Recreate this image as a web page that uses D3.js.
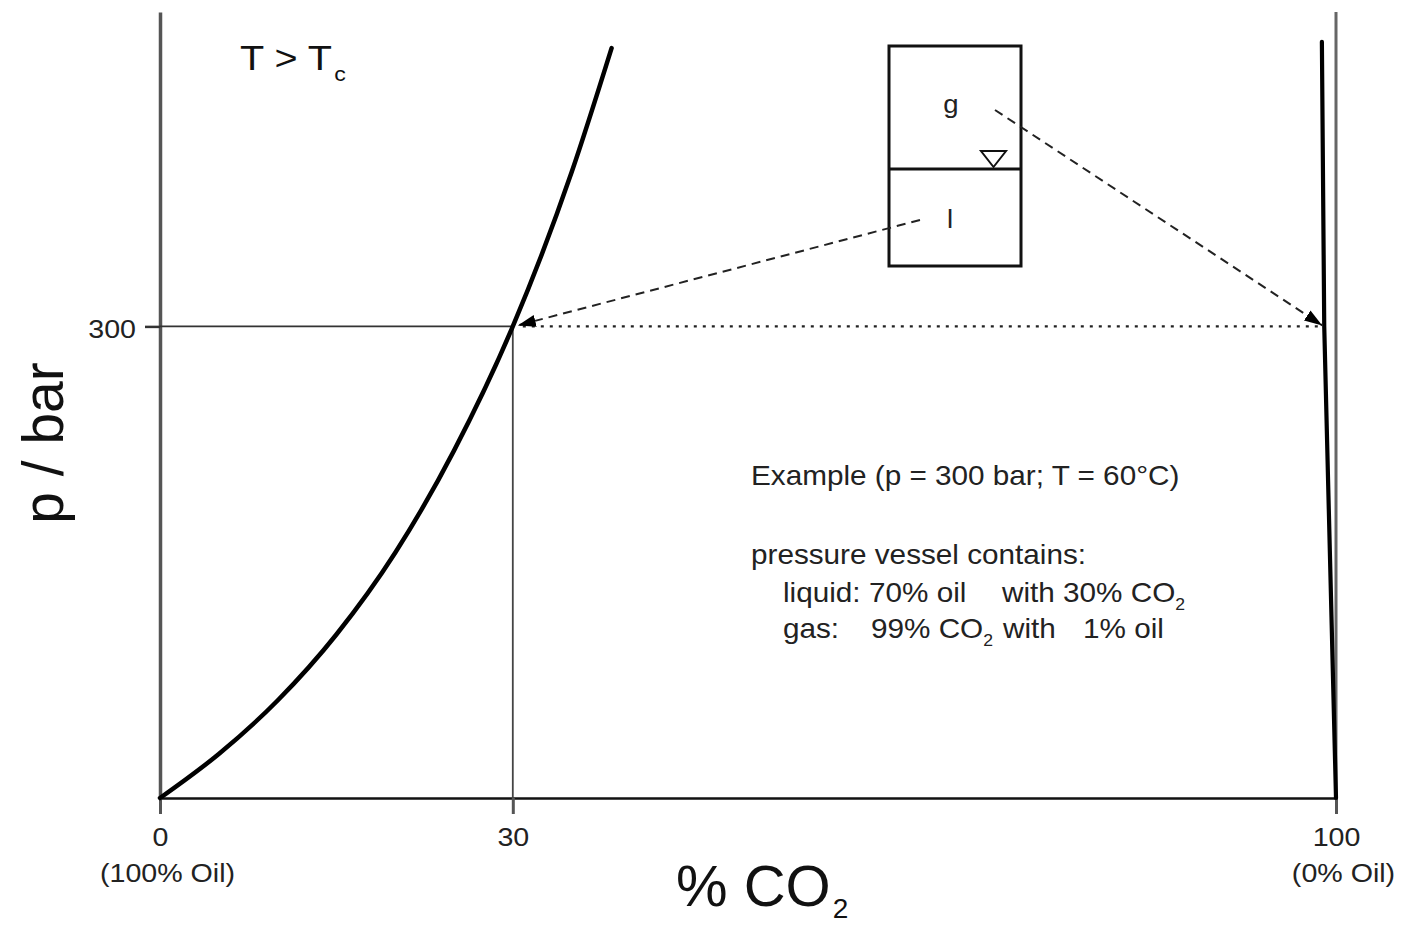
<!DOCTYPE html>
<html>
<head>
<meta charset="utf-8">
<script src="https://cdn.jsdelivr.net/npm/d3@7"></script>
<style>
  html, body { margin: 0; padding: 0; background: #fff; }
  svg { display: block; font-family: "Liberation Sans", Arial, Helvetica, sans-serif; }
</style>
</head>
<body>
<svg id="chart" width="1401" height="926"></svg>
<script>
// Phase boundaries of the CO2 / oil system above the critical temperature
// Liquid branch: % CO2 dissolved in the oil vs. pressure (bar)
const co2Liquid = [0, 5, 10, 15, 20, 25, 30, 35, 38.4];
const pLiquid   = [0, 28, 62, 104, 156, 221, 300, 398, 477];
// Gas branch: % CO2 in the gas phase vs. pressure (bar)
const co2Gas = [100, 99, 98.8];
const pGas   = [0, 300, 481];

// Axis ticks
const xTicks = [0, 30, 100];
const xTickNotes = { 0: "(100% Oil)", 100: "(0% Oil)" };
const yTicks = [300];

// Worked example
const exampleP = 300;
const exampleLiquidCO2 = 30;
const exampleGasCO2 = 99;

const svg = d3.select("#chart");
const font = "'Liberation Sans', Arial, Helvetica, sans-serif";
const WIDE = 1.1; // slightly expanded lettering

const x = d3.scaleLinear().domain([0, 100]).range([160, 1336]);
const y = d3.scaleLinear().domain([0, 500]).range([798, 12]);

// text helper: places a horizontally widened label at (px, py)
function label(parent, px, py, str, size, anchor) {
  return parent.append("text")
    .attr("transform", `translate(${px},${py}) scale(${WIDE},1)`)
    .attr("text-anchor", anchor || "start")
    .attr("font-size", size).attr("font-family", font).attr("fill", "#222")
    .text(str);
}

// ---- axes ----
const xAxis = d3.axisBottom(x).tickValues(xTicks).tickSize(16).tickSizeOuter(0)
  .tickFormat(d3.format("d"));
const gx = svg.append("g").attr("transform", `translate(0,${y(0)})`).call(xAxis);
gx.select(".domain").attr("stroke", "#111").attr("stroke-width", 2.6);
gx.selectAll(".tick line").attr("stroke", "#555").attr("stroke-width", 3);
gx.selectAll(".tick text")
  .attr("y", 0).attr("dy", 0)
  .attr("transform", `translate(0,48) scale(${WIDE},1)`)
  .attr("font-size", 26).attr("font-family", font).attr("fill", "#222");
gx.selectAll(".tick").filter(d => xTickNotes[d])
  .append("text")
  .attr("transform", `translate(7,84) scale(${WIDE},1)`)
  .attr("text-anchor", "middle")
  .attr("font-size", 26).attr("font-family", font).attr("fill", "#222")
  .text(d => xTickNotes[d]);

const yAxis = d3.axisLeft(y).tickValues(yTicks).tickSize(15).tickSizeOuter(0)
  .tickFormat(d3.format("d"));
const gy = svg.append("g").attr("transform", `translate(${x(0)},0)`).call(yAxis);
gy.select(".domain").attr("stroke", "#555").attr("stroke-width", 3.5);
gy.selectAll(".tick line").attr("stroke", "#333").attr("stroke-width", 2.5);
gy.selectAll(".tick text")
  .attr("x", 0).attr("dy", 0)
  .attr("transform", `translate(-24,11) scale(${WIDE},1)`)
  .attr("font-size", 26).attr("font-family", font).attr("fill", "#222");

// right frame line at 100 % CO2
svg.append("line")
  .attr("x1", x(100)).attr("x2", x(100))
  .attr("y1", y(0)).attr("y2", y(500))
  .attr("stroke", "#666").attr("stroke-width", 3);

// axis titles
svg.append("text")
  .attr("transform", `translate(63,443) rotate(-90)`)
  .attr("text-anchor", "middle")
  .attr("font-size", 57).attr("font-family", font).attr("fill", "#111")
  .text("p / bar");

const xt = svg.append("text")
  .attr("x", 676).attr("y", 906)
  .attr("font-size", 58).attr("font-family", font).attr("fill", "#111");
xt.append("tspan").text("% CO");
xt.append("tspan").attr("font-size", 28).attr("dy", 12).attr("dx", 2).text("2");

// ---- example construction lines at 300 bar ----
svg.append("line")
  .attr("x1", x(0)).attr("x2", x(exampleLiquidCO2))
  .attr("y1", y(exampleP)).attr("y2", y(exampleP))
  .attr("stroke", "#333").attr("stroke-width", 1.6);
svg.append("line")
  .attr("x1", x(exampleLiquidCO2)).attr("x2", x(exampleLiquidCO2))
  .attr("y1", y(exampleP)).attr("y2", y(0))
  .attr("stroke", "#444").attr("stroke-width", 1.8);
svg.append("line")
  .attr("x1", x(exampleLiquidCO2) + 10).attr("x2", x(exampleGasCO2) - 4)
  .attr("y1", y(exampleP)).attr("y2", y(exampleP))
  .attr("stroke", "#222").attr("stroke-width", 2.2)
  .attr("stroke-dasharray", "3,6");

// ---- phase boundary curves ----
const line = d3.line().x(d => x(d[0])).y(d => y(d[1]));
svg.append("path")
  .datum(d3.zip(co2Liquid, pLiquid))
  .attr("d", line.curve(d3.curveMonotoneX))
  .attr("fill", "none").attr("stroke", "#000").attr("stroke-width", 4.5)
  .attr("stroke-linecap", "round");
svg.append("path")
  .datum(d3.zip(co2Gas, pGas))
  .attr("d", d3.line().x(d => x(d[0])).y(d => y(d[1])))
  .attr("fill", "none").attr("stroke", "#000").attr("stroke-width", 4.2)
  .attr("stroke-linecap", "round");

// ---- pressure vessel sketch ----
const vessel = { x: 889, y: 46, w: 132, h: 220, level: 169 };
const vg = svg.append("g");
vg.append("rect")
  .attr("x", vessel.x).attr("y", vessel.y)
  .attr("width", vessel.w).attr("height", vessel.h)
  .attr("fill", "none").attr("stroke", "#111").attr("stroke-width", 3);
vg.append("line")
  .attr("x1", vessel.x).attr("x2", vessel.x + vessel.w)
  .attr("y1", vessel.level).attr("y2", vessel.level)
  .attr("stroke", "#111").attr("stroke-width", 3);
vg.append("path")
  .attr("d", `M981,151 L1006,151 L993.5,167 Z`)
  .attr("fill", "none").attr("stroke", "#111").attr("stroke-width", 2);
label(vg, 951, 113, "g", 25, "middle");
label(vg, 950, 228, "l", 25, "middle");

// arrows from each phase to its composition on the boundary
svg.append("defs").append("marker")
  .attr("id", "head")
  .attr("markerUnits", "userSpaceOnUse")
  .attr("viewBox", "0 0 18 12")
  .attr("refX", 18).attr("refY", 6)
  .attr("markerWidth", 18).attr("markerHeight", 12)
  .attr("orient", "auto")
  .append("path").attr("d", "M0,0 L18,6 L0,12 Z").attr("fill", "#000");

svg.append("line")
  .attr("x1", 920).attr("y1", 220)
  .attr("x2", x(exampleLiquidCO2) + 5).attr("y2", y(exampleP) - 1)
  .attr("stroke", "#222").attr("stroke-width", 2)
  .attr("stroke-dasharray", "9,6")
  .attr("marker-end", "url(#head)");
svg.append("line")
  .attr("x1", 995).attr("y1", 110)
  .attr("x2", x(exampleGasCO2) - 2).attr("y2", y(exampleP) - 1)
  .attr("stroke", "#222").attr("stroke-width", 2)
  .attr("stroke-dasharray", "9,6")
  .attr("marker-end", "url(#head)");

// ---- annotations ----
const tt = svg.append("text")
  .attr("transform", `translate(240,70) scale(${WIDE},1)`)
  .attr("font-size", 36).attr("font-family", font).attr("fill", "#111");
tt.append("tspan").text("T > T");
tt.append("tspan").attr("font-size", 21).attr("dy", 11).attr("dx", 2).text("c");

const note = svg.append("g");
const fs = 27;
label(note, 751, 485, "Example (p = 300 bar; T = 60\u00B0C)", fs);
label(note, 751, 564, "pressure vessel contains:", fs);

// liquid row
label(note, 783, 602, "liquid:", fs);
label(note, 869, 602, "70% oil", fs);
const w1 = label(note, 1002, 602, "with 30% CO", fs);
w1.append("tspan").attr("font-size", 16).attr("dy", 8).text("2");

// gas row
label(note, 783, 638, "gas:", fs);
const g1 = label(note, 871, 638, "99% CO", fs);
g1.append("tspan").attr("font-size", 16).attr("dy", 8).text("2");
label(note, 1003, 638, "with", fs);
label(note, 1083, 638, "1% oil", fs);
</script>
</body>
</html>
